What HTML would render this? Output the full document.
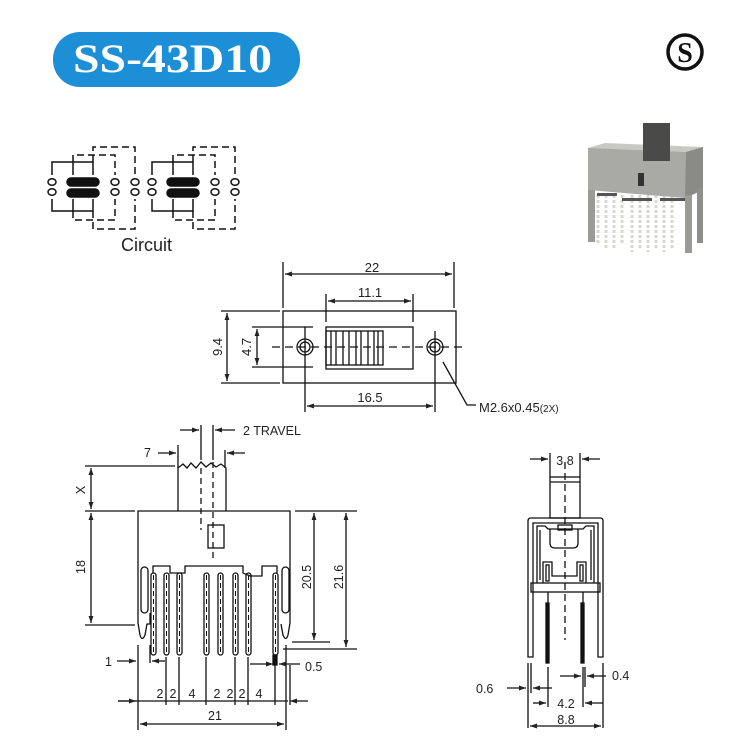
<!DOCTYPE html>
<html><head><meta charset="utf-8"><style>
html,body{margin:0;padding:0;background:#fff;}
svg{display:block;}
text{font-family:"Liberation Sans",sans-serif;fill:#222;}
</style></head><body>
<svg width="735" height="744" viewBox="0 0 735 744" xmlns="http://www.w3.org/2000/svg">
<defs>
<marker id="a" viewBox="0 0 10 10" refX="10" refY="5" markerWidth="7" markerHeight="7" orient="auto-start-reverse" markerUnits="userSpaceOnUse"><path d="M0,1.5 L10,5 L0,8.5z" fill="#222"/></marker>
</defs>
<!-- Title -->
<rect x="53" y="32" width="247" height="55" rx="27" fill="#1c8fd6"/>
<text x="73" y="72" font-family="Liberation Serif" font-weight="bold" font-size="40" textLength="199" lengthAdjust="spacingAndGlyphs" style="fill:#fff;font-family:'Liberation Serif',serif">SS-43D10</text>
<!-- logo -->
<circle cx="685" cy="52" r="17" fill="none" stroke="#111" stroke-width="3.5"/>
<text x="685" y="62" text-anchor="middle" font-family="Liberation Serif" font-weight="bold" font-size="28" style="font-family:'Liberation Serif',serif;fill:#111">S</text>

<!-- photo -->
<g>
<g stroke="#d8d8d0" stroke-width="3" stroke-dasharray="3,2">
<line x1="598" y1="195" x2="598" y2="245"/><line x1="606" y1="195" x2="606" y2="248"/><line x1="614" y1="195" x2="614" y2="250"/><line x1="622" y1="195" x2="622" y2="245"/><line x1="632" y1="195" x2="632" y2="252"/><line x1="640" y1="195" x2="640" y2="248"/><line x1="648" y1="195" x2="648" y2="252"/><line x1="656" y1="195" x2="656" y2="248"/><line x1="664" y1="195" x2="664" y2="252"/><line x1="672" y1="195" x2="672" y2="250"/>
</g>
<polygon points="588,148 600,145 686,152 703,147 703,190 685,198 588,190" fill="#a9a9a5"/>
<polygon points="588,148 605,143 703,147 686,152" fill="#c9c9c3"/>
<polygon points="686,152 703,147 703,190 685,198" fill="#8a8a86"/>
<rect x="588" y="190" width="7" height="52" fill="#9a9a96"/>
<rect x="685" y="195" width="7" height="58" fill="#9a9a96"/>
<rect x="697" y="188" width="6" height="55" fill="#8e8e8a"/>
<rect x="643" y="123" width="27" height="38" fill="#4a4a48"/>
<rect x="638" y="173" width="6" height="13" fill="#333"/>
<rect x="597" y="193" width="20" height="3" fill="#555"/><rect x="622" y="198" width="30" height="3" fill="#555"/><rect x="660" y="198" width="25" height="3" fill="#555"/>
</g>

<!-- Circuit -->
<g fill="none" stroke="#111" stroke-width="1.5">
<g id="cg">
<ellipse cx="52" cy="182" rx="4" ry="3.3"/><ellipse cx="52" cy="192" rx="4" ry="3.3"/>
<ellipse cx="115" cy="182" rx="4" ry="3.3"/><ellipse cx="115" cy="192" rx="4" ry="3.3"/>
<ellipse cx="135" cy="182" rx="4" ry="3.3"/><ellipse cx="135" cy="192" rx="4" ry="3.3"/>
<rect x="67" y="178" width="32" height="8" rx="4" fill="#111"/>
<rect x="67" y="189" width="32" height="8" rx="4" fill="#111"/>
<polyline points="52,175 52,162 93,162 93,175"/><line x1="73" y1="162" x2="73" y2="175"/>
<polyline points="52,199 52,211 93,211 93,199"/><line x1="73" y1="211" x2="73" y2="199"/>
<polyline points="73,162 73,155 115,155 115,175" stroke-dasharray="7,4"/>
<polyline points="93,162 93,147 135,147 135,175" stroke-dasharray="7,4"/>
<polyline points="73,211 73,220 115,220 115,199" stroke-dasharray="7,4"/>
<polyline points="93,211 93,229 135,229 135,199" stroke-dasharray="7,4"/>
</g>
<use href="#cg" x="100"/>
</g>
<text x="121" y="251" font-size="18">Circuit</text>

<!-- Top view -->
<g fill="none" stroke="#111" stroke-width="1.3">
<rect x="283" y="311" width="173" height="72"/>
<rect x="326" y="327" width="87" height="42"/>
<rect x="326" y="331" width="57" height="34"/>
<path d="M331,331v34M336,331v34M343,331v34M349,331v34M356,331v34M361,331v34M368,331v34M374,331v34M378,331v34"/>
<circle cx="305" cy="347" r="8"/><circle cx="305" cy="347" r="5"/>
<circle cx="435" cy="347" r="8"/><circle cx="435" cy="347" r="5"/>
<line x1="272" y1="347" x2="465" y2="347" stroke-dasharray="8,5"/>
<line x1="283" y1="262" x2="283" y2="308"/><line x1="454" y1="262" x2="454" y2="308"/>
<line x1="285" y1="274" x2="452" y2="274" marker-start="url(#a)" marker-end="url(#a)"/>
<line x1="326" y1="294" x2="326" y2="322"/><line x1="413" y1="294" x2="413" y2="322"/>
<line x1="328" y1="301" x2="411" y2="301" marker-start="url(#a)" marker-end="url(#a)"/>
<line x1="221" y1="311" x2="280" y2="311"/><line x1="221" y1="383" x2="280" y2="383"/>
<line x1="227" y1="313" x2="227" y2="381" marker-start="url(#a)" marker-end="url(#a)"/>
<line x1="252" y1="327" x2="313" y2="327"/><line x1="252" y1="367" x2="313" y2="367"/>
<line x1="257" y1="329" x2="257" y2="365" marker-start="url(#a)" marker-end="url(#a)"/>
<line x1="305" y1="327" x2="305" y2="412"/><line x1="435" y1="331" x2="435" y2="412"/>
<line x1="307" y1="406" x2="433" y2="406" marker-start="url(#a)" marker-end="url(#a)"/>
<polyline points="443,362 467,405 476,405"/>
</g>
<text x="372" y="272" font-size="13" text-anchor="middle">22</text>
<text x="370" y="297" font-size="13" text-anchor="middle">11.1</text>
<text x="370" y="402" font-size="13" text-anchor="middle">16.5</text>
<text x="479" y="412" font-size="13">M2.6x0.45<tspan font-size="10">(2X)</tspan></text>
<text transform="translate(222,347) rotate(-90)" font-size="13" text-anchor="middle">9.4</text>
<text transform="translate(251,347) rotate(-90)" font-size="13" text-anchor="middle">4.7</text>

<!-- Front view -->
<g fill="none" stroke="#111" stroke-width="1.3">
<polyline points="178,511 178,468 183,464 187,468 191,463 196,468 201,462 206,467 211,463 216,467 221,464 226,468 226,511"/>
<polyline points="138,623 138,511 290,511 290,623"/>
<line x1="201" y1="468" x2="201" y2="530" stroke-dasharray="6,4"/>
<line x1="213" y1="462" x2="213" y2="558" stroke-dasharray="6,4"/>
<rect x="208" y="525" width="16" height="23"/>
<polyline points="153,573 153,566 170,566 170,573 178,573 185,573 185,566 243,566 243,573 250,576 262,576 262,566 277,566 277,573"/>
<rect x="141" y="567" width="7" height="46" rx="3.5"/>
<rect x="282" y="567" width="7" height="46" rx="3.5"/>
<path d="M138,623 L140,635 Q142,642 145,635 L147,624 L150,624 L150,613"/>
<path d="M290,623 L288,635 Q286,642 283,635 L281,624"/>
<g>
<rect x="151" y="573" width="5" height="82" rx="2.5"/><rect x="164" y="573" width="5" height="82" rx="2.5"/><rect x="177" y="573" width="5" height="82" rx="2.5"/>
<rect x="204" y="573" width="5" height="82" rx="2.5"/><rect x="218" y="573" width="5" height="82" rx="2.5"/><rect x="233" y="573" width="5" height="82" rx="2.5"/><rect x="246" y="573" width="5" height="82" rx="2.5"/>
<rect x="273" y="573" width="5" height="82" rx="2.5"/>
</g>
<g stroke-dasharray="5,3" stroke-width="1">
<path d="M153.5,575v78M166.5,575v78M179.5,575v78M206.5,575v78M220.5,575v78M235.5,575v78M248.5,575v78M275.5,575v78"/>
</g>
<rect x="273" y="655" width="4" height="10" fill="#111"/>
<line x1="85" y1="466" x2="175" y2="466"/><line x1="85" y1="511" x2="135" y2="511"/><line x1="85" y1="625" x2="135" y2="625"/>
<line x1="91" y1="468" x2="91" y2="509" marker-start="url(#a)" marker-end="url(#a)"/>
<line x1="91" y1="513" x2="91" y2="623" marker-start="url(#a)" marker-end="url(#a)"/>
<line x1="295" y1="511" x2="357" y2="511"/><line x1="292" y1="642" x2="330" y2="642"/><line x1="283" y1="649" x2="357" y2="649"/>
<line x1="314" y1="513" x2="314" y2="640" marker-start="url(#a)" marker-end="url(#a)"/>
<line x1="346" y1="513" x2="346" y2="647" marker-start="url(#a)" marker-end="url(#a)"/>
<line x1="178" y1="445" x2="178" y2="468"/><line x1="225" y1="450" x2="225" y2="468"/>
<line x1="158" y1="453" x2="176" y2="453" marker-end="url(#a)"/>
<line x1="245" y1="453" x2="227" y2="453" marker-end="url(#a)"/>
<line x1="201" y1="425" x2="201" y2="460"/><line x1="213" y1="425" x2="213" y2="460"/>
<line x1="180" y1="430" x2="199" y2="430" marker-end="url(#a)"/>
<line x1="235" y1="430" x2="215" y2="430" marker-end="url(#a)"/>
<path d="M138,645v85M150,645v18M166,657v48M179,657v48M206,657v48M235,657v48M248,657v48M275,665v40M286,645v85M290,665v40"/>
<line x1="118" y1="701" x2="288" y2="701"/>
<line x1="118" y1="701" x2="136" y2="701" marker-end="url(#a)"/>
<line x1="308" y1="701" x2="290" y2="701" marker-end="url(#a)"/>
<line x1="140" y1="724" x2="284" y2="724" marker-start="url(#a)" marker-end="url(#a)"/>
<line x1="117" y1="661" x2="136" y2="661" marker-end="url(#a)"/>
<line x1="165" y1="661" x2="152" y2="661" marker-end="url(#a)"/>
<line x1="250" y1="664" x2="273" y2="664" marker-end="url(#a)"/>
<line x1="300" y1="664" x2="279" y2="664" marker-end="url(#a)"/>
</g>
<text x="243" y="435" font-size="12.5">2 TRAVEL</text>
<text x="144" y="457" font-size="12.5">7</text>
<text transform="translate(85,490) rotate(-90)" font-size="12.5" text-anchor="middle">X</text>
<text transform="translate(85,567) rotate(-90)" font-size="12.5" text-anchor="middle">18</text>
<text transform="translate(311,577) rotate(-90)" font-size="12.5" text-anchor="middle">20.5</text>
<text transform="translate(343,577) rotate(-90)" font-size="12.5" text-anchor="middle">21.6</text>
<text x="105" y="666" font-size="12.5">1</text>
<text x="305" y="671" font-size="12.5">0.5</text>
<g font-size="12.5" text-anchor="middle"><text x="160" y="698">2</text><text x="173" y="698">2</text><text x="192" y="698">4</text><text x="217" y="698">2</text><text x="230" y="698">2</text><text x="242" y="698">2</text><text x="259" y="698">4</text></g>
<text x="215" y="720" font-size="12.5" text-anchor="middle">21</text>

<!-- Side view -->
<g fill="none" stroke="#111" stroke-width="1.3">
<rect x="550" y="477" width="30" height="41"/><line x1="550" y1="482" x2="580" y2="482"/>
<line x1="550" y1="453" x2="550" y2="477"/><line x1="580" y1="453" x2="580" y2="477"/>
<line x1="530" y1="459" x2="548" y2="459" marker-end="url(#a)"/>
<line x1="600" y1="459" x2="582" y2="459" marker-end="url(#a)"/>
<path d="M528,657 L528,521 Q528,518 531,518 L600,518 Q603,518 603,521 L603,657 L598,657 L598,523 L533,523 L533,657 Z"/>
<path d="M537,583 L537,526 L545,526 L548,529 L583,529 L586,526 L594,526 L594,583"/>
<path d="M540,580 L540,530"/><path d="M591,580 L591,530"/>
<path d="M550,529 L550,543 Q550,548 555,548 L573,548 Q578,548 578,543 L578,529"/>
<rect x="558" y="525" width="14" height="5"/>
<path d="M543,583 L543,562 L552,562 L552,576 L577,576 L577,562 L586,562 L586,583"/>
<rect x="546" y="565" width="3" height="16"/><rect x="580" y="565" width="3" height="16"/>
<rect x="531" y="583" width="69" height="9"/>
<line x1="548" y1="592" x2="548" y2="603"/><line x1="583" y1="592" x2="583" y2="603"/>
<rect x="546" y="603" width="3" height="60" fill="#111"/><rect x="581" y="603" width="3" height="60" fill="#111"/>
<line x1="565" y1="462" x2="565" y2="640" stroke-dasharray="7,4"/>
<path d="M528,663v65M531,663v30M548,667v40M583,667v40M585,667v20M603,663v65"/>
<line x1="507" y1="688" x2="526" y2="688" marker-end="url(#a)"/>
<line x1="552" y1="688" x2="533" y2="688" marker-end="url(#a)"/>
<line x1="560" y1="676" x2="581" y2="676" marker-end="url(#a)"/>
<line x1="606" y1="676" x2="587" y2="676" marker-end="url(#a)"/>
<line x1="533" y1="703" x2="546" y2="703" marker-end="url(#a)"/>
<line x1="603" y1="703" x2="585" y2="703" marker-end="url(#a)"/>
<line x1="530" y1="726" x2="601" y2="726" marker-start="url(#a)" marker-end="url(#a)"/>
</g>
<text x="565" y="465" font-size="12.5" text-anchor="middle">3.8</text>
<text x="476" y="693" font-size="12.5">0.6</text>
<text x="612" y="680" font-size="12.5">0.4</text>
<text x="566" y="708" font-size="12.5" text-anchor="middle">4.2</text>
<text x="566" y="724" font-size="12.5" text-anchor="middle">8.8</text>
</svg>
</body></html>
